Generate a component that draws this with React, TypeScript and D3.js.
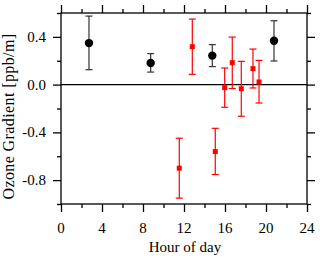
import React, { useEffect, useRef } from "react";
import * as d3 from "d3";

// black series (circles)
const blackHour = [2.73, 8.75, 14.76, 20.78];
const blackVal = [0.348, 0.181, 0.243, 0.368];
const blackLo = [0.125, 0.105, 0.151, 0.198];
const blackHi = [0.574, 0.26, 0.335, 0.535];

// red series (squares)
const redHour = [11.54, 12.81, 15.05, 15.97, 16.71, 17.59, 18.73, 19.32];
const redVal = [-0.7, 0.318, -0.561, -0.025, 0.184, -0.034, 0.134, 0.022];
const redLo = [-0.951, 0.086, -0.753, -0.19, -0.033, -0.265, -0.028, -0.154];
const redHi = [-0.449, 0.549, -0.366, 0.139, 0.398, 0.195, 0.298, 0.203];

const xMajor = [0, 4, 8, 12, 16, 20, 24];
const xMinor = [2, 6, 10, 14, 18, 22];
const yMajor = [-0.8, -0.4, 0.0, 0.4];
const yMinor = [-1.0, -0.6, -0.2, 0.2, 0.6];

const width = 320;
const height = 258;
const margin = { top: 13, right: 13, bottom: 54, left: 61 };
const font = "Liberation Serif";

interface Pt {
  h: number;
  v: number;
  lo: number;
  hi: number;
}

const App: React.FC = () => {
  const svgRef = useRef<SVGSVGElement>(null);

  useEffect(() => {
    const svg = d3.select(svgRef.current);
    svg.selectAll("*").remove();

    const x = d3
      .scaleLinear()
      .domain([0, 24])
      .range([margin.left, width - margin.right]);
    const y = d3
      .scaleLinear()
      .domain([-1.0, 0.6])
      .range([height - margin.bottom, margin.top]);

    const x0 = margin.left;
    const x1 = width - margin.right;
    const y0 = height - margin.bottom;
    const y1 = margin.top;

    const tickOnly = (g: d3.Selection<SVGGElement, unknown, null, undefined>) => {
      g.select(".domain").remove();
      g.selectAll("text").remove();
      g.selectAll("line").attr("stroke", "#000").attr("stroke-width", 1.3);
    };

    const addTicks = (axis: d3.Axis<d3.NumberValue>, tx: number, ty: number) => {
      svg.append("g")
        .attr("transform", `translate(${tx},${ty})`)
        .call(axis)
        .call(tickOnly);
    };

    addTicks(d3.axisBottom(x).tickValues(xMajor).tickSize(8), 0, y0);
    addTicks(d3.axisBottom(x).tickValues(xMinor).tickSize(4), 0, y0);
    addTicks(d3.axisTop(x).tickValues(xMajor).tickSize(8), 0, y1);
    addTicks(d3.axisTop(x).tickValues(xMinor).tickSize(4), 0, y1);
    addTicks(d3.axisLeft(y).tickValues(yMajor).tickSize(8), x0, 0);
    addTicks(d3.axisLeft(y).tickValues(yMinor).tickSize(4), x0, 0);
    addTicks(d3.axisRight(y).tickValues(yMajor).tickSize(8), x1, 0);
    addTicks(d3.axisRight(y).tickValues(yMinor).tickSize(4), x1, 0);

    // tick labels
    svg.append("g")
      .selectAll("text")
      .data(xMajor)
      .join("text")
      .attr("x", (d) => x(d))
      .attr("y", 233)
      .attr("text-anchor", "middle")
      .attr("font-family", font)
      .attr("font-size", 15)
      .attr("fill", "#000")
      .text((d) => String(d));

    svg.append("g")
      .selectAll("text")
      .data(yMajor)
      .join("text")
      .attr("x", x0 - 15)
      .attr("y", (d) => y(d))
      .attr("dy", "0.34em")
      .attr("text-anchor", "end")
      .attr("font-family", font)
      .attr("font-size", 15)
      .attr("fill", "#000")
      .text((d) => d.toFixed(1));

    // frame
    svg.append("rect")
      .attr("x", x0)
      .attr("y", y1)
      .attr("width", x1 - x0)
      .attr("height", y0 - y1)
      .attr("fill", "none")
      .attr("stroke", "#000")
      .attr("stroke-width", 1.3);

    // zero line
    svg.append("line")
      .attr("x1", x0)
      .attr("x2", x1)
      .attr("y1", y(0))
      .attr("y2", y(0))
      .attr("stroke", "#000")
      .attr("stroke-width", 1.3);

    const black: Pt[] = blackHour.map((h, i) => ({ h, v: blackVal[i], lo: blackLo[i], hi: blackHi[i] }));
    const red: Pt[] = redHour.map((h, i) => ({ h, v: redVal[i], lo: redLo[i], hi: redHi[i] }));

    const errorBars = (data: Pt[], color: string) => {
      const g = svg.append("g").attr("stroke", color).attr("stroke-width", 1.2).attr("fill", "none");
      const cap = 3.5;
      data.forEach((d) => {
        g.append("line").attr("x1", x(d.h)).attr("x2", x(d.h)).attr("y1", y(d.lo)).attr("y2", y(d.hi));
        g.append("line").attr("x1", x(d.h) - cap).attr("x2", x(d.h) + cap).attr("y1", y(d.lo)).attr("y2", y(d.lo));
        g.append("line").attr("x1", x(d.h) - cap).attr("x2", x(d.h) + cap).attr("y1", y(d.hi)).attr("y2", y(d.hi));
      });
    };

    errorBars(black, "#333");
    errorBars(red, "#f00");

    svg.append("g")
      .selectAll("circle")
      .data(black)
      .join("circle")
      .attr("cx", (d) => x(d.h))
      .attr("cy", (d) => y(d.v))
      .attr("r", 4.2)
      .attr("fill", "#000");

    const s = 5;
    svg.append("g")
      .selectAll("rect")
      .data(red)
      .join("rect")
      .attr("x", (d) => x(d.h) - s / 2)
      .attr("y", (d) => y(d.v) - s / 2)
      .attr("width", s)
      .attr("height", s)
      .attr("fill", "#f00");

    // axis titles
    svg.append("text")
      .attr("x", 185)
      .attr("y", 252)
      .attr("text-anchor", "middle")
      .attr("font-family", font)
      .attr("font-size", 15)
      .text("Hour of day");

    svg.append("text")
      .attr("transform", `translate(13.5,116.5) rotate(-90)`)
      .attr("text-anchor", "middle")
      .attr("font-family", font)
      .attr("font-size", 16)
      .attr("letter-spacing", 0.4)
      .text("Ozone Gradient [ppb/m]");
  }, []);

  return (
    <svg
      ref={svgRef}
      width={width}
      height={height}
      style={{ position: "absolute", left: 0, top: 0, background: "#fff" }}
    />
  );
};

export default App;
